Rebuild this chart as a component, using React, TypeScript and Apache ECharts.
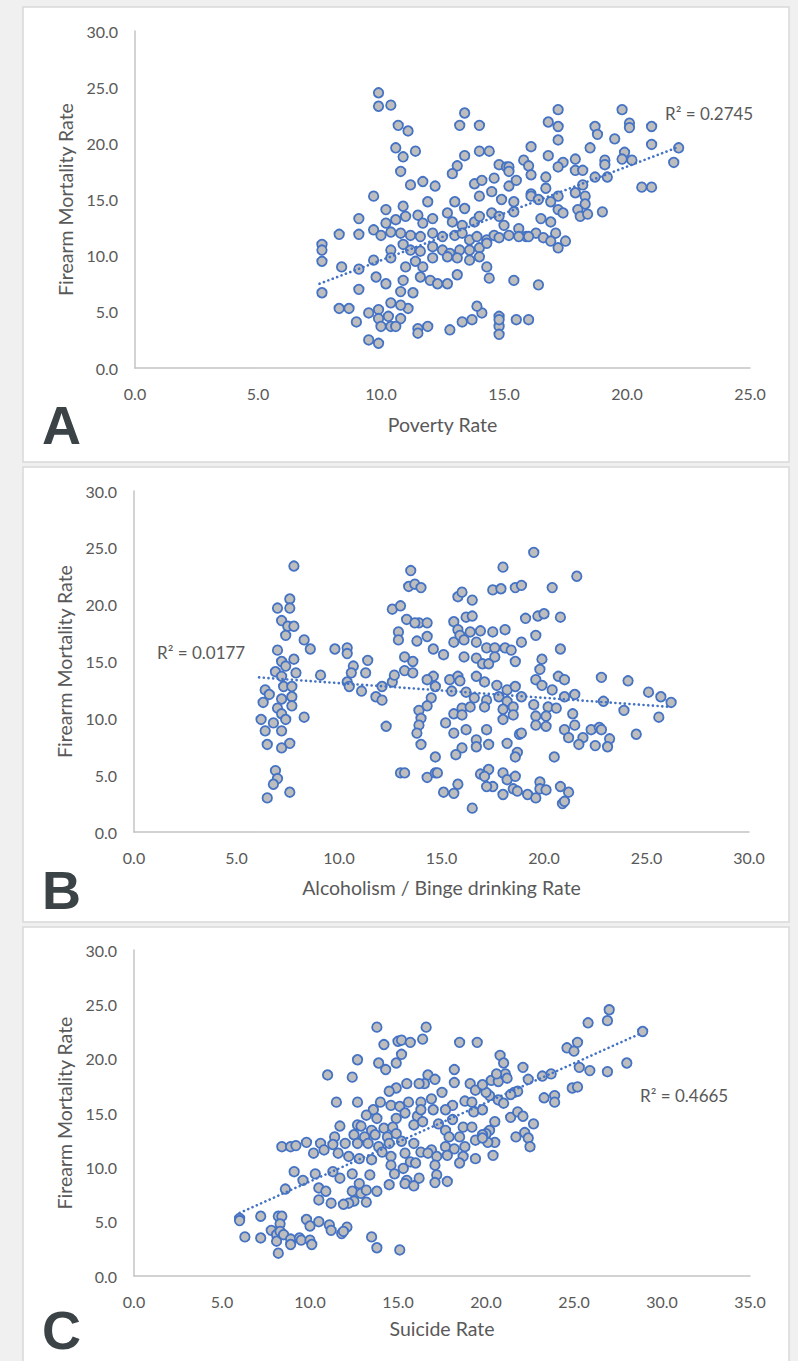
import React, { useEffect, useRef } from "react";
import * as echarts from "echarts";

const W = 798;
const H = 1361;
const FONT = "Lato, 'Open Sans', sans-serif";
const TEXT_COLOR = "#595959";

// Panel A: Poverty rate vs firearm mortality
const povertyPoints: number[][] = [
  // upper / outer points
  [9.9,24.5],[9.9,23.3],[10.4,23.4],[13.4,22.7],[10.7,21.6],[11.1,21.1],[13.2,21.6],[14.0,21.6],
  [10.6,19.6],[11.4,19.3],[10.9,18.8],[14.0,19.3],[14.4,19.3],[13.4,18.9],[13.1,18.0],[14.8,18.1],[15.1,17.9],
  [9.1,13.3],[8.3,11.9],[9.1,11.9],[7.6,11.0],[7.6,10.5],[7.6,9.5],[8.4,9.0],[9.1,8.8],[9.1,7.0],[7.6,6.7],
  [8.3,5.3],[8.7,5.3],[9.5,4.9],[9.9,5.2],[11.1,5.3],[14.1,4.9],
  [9.0,4.1],[9.9,4.4],[10.3,4.6],[10.8,4.4],[13.3,4.1],[13.7,4.3],[14.8,4.6],
  [10.0,3.7],[10.4,3.7],[10.6,3.7],[11.5,3.5],[11.9,3.7],[12.8,3.4],[14.8,3.7],[11.5,3.1],[14.8,3.0],[9.5,2.5],[9.9,2.2],
  [17.2,23.0],[19.8,23.0],[16.8,21.9],[17.2,21.5],[18.7,21.5],[18.8,20.8],[20.1,21.8],[20.1,21.4],[21.0,21.5],
  [17.2,20.3],[19.5,20.4],[21.0,19.9],[16.1,19.7],[18.5,19.6],[22.1,19.6],
  [16.8,18.9],[19.9,19.2],[19.8,18.6],[20.2,18.5],[15.8,18.5],[17.4,18.3],[17.9,18.6],[19.1,18.5],[19.1,18.1],[21.9,18.3],
  [15.2,17.9],[16.0,18.0],[17.9,17.6],[18.2,17.6],[17.2,17.9],[18.7,17.0],[19.2,17.0],
  [18.2,16.3],[20.6,16.1],[21.0,16.1],[17.9,15.6],[18.3,15.3],[18.3,14.6],
  [18.0,14.1],[18.1,13.5],[18.4,13.7],[19.0,13.9],[14.8,4.3],[15.5,4.3],[16.0,4.3],
  // dense centre
  [10.8,17.5],[12.9,17.3],[15.2,17.5],[16.1,17.2],[16.7,17.0],
  [11.2,16.3],[11.7,16.6],[12.2,16.2],[13.8,16.4],[14.1,16.7],[14.6,16.9],[15.2,16.2],[15.5,16.7],[16.1,15.5],[16.7,16.0],
  [9.7,15.3],[11.9,14.8],[13.0,14.8],[13.4,14.2],[14.0,15.3],[14.5,15.7],[14.9,15.0],[15.4,14.8],[16.1,15.3],[16.4,15.0],[17.2,15.3],[16.9,14.8],
  [10.2,14.1],[10.9,14.4],[11.0,13.5],[10.6,13.2],[10.2,12.9],[9.7,12.3],
  [11.5,13.6],[11.7,12.9],[12.1,13.3],[12.7,13.8],[12.9,13.0],[13.3,12.7],[13.8,13.0],[14.0,13.5],[14.5,13.8],[14.8,13.5],[15.0,12.7],
  [15.4,13.9],[15.6,12.4],[15.9,11.7],[16.3,12.0],[16.9,13.0],[17.1,12.0],[16.5,13.3],[17.2,14.1],[17.4,13.8],
  [10.0,11.8],[10.4,12.1],[10.8,12.0],[11.2,11.8],[11.6,11.7],[12.1,12.0],[12.5,11.7],[13.0,11.8],[13.3,12.0],[13.6,11.4],
  [13.9,11.7],[14.3,11.4],[14.6,11.8],[14.8,11.6],[15.2,11.8],[15.6,11.7],[16.0,11.7],
  [10.4,10.5],[10.9,11.0],[11.2,10.5],[11.6,10.4],[12.1,10.8],[12.5,10.5],[12.8,10.2],[13.2,10.5],[13.6,10.5],[14.0,10.7],
  [14.3,11.1],[17.2,10.7],[16.6,11.6],[16.9,11.3],[17.5,11.3],
  [9.7,9.6],[10.4,9.8],[11.0,9.0],[11.4,9.5],[11.7,9.0],[12.1,9.8],[12.7,9.9],[13.1,9.8],[13.6,9.6],[14.0,9.9],[14.3,9.0],
  [9.8,8.1],[10.2,7.5],[10.9,7.8],[11.6,8.1],[12.0,7.8],[12.3,7.5],[12.7,7.5],[13.1,8.3],[14.4,8.0],
  [10.8,6.8],[11.3,6.7],[10.4,5.8],[10.8,5.6],[13.9,5.5],[15.4,7.8],[16.4,7.4],
];

// Panel B: Alcoholism / binge drinking rate vs firearm mortality
const alcoholPoints: number[][] = [
  [7.8,23.4],[7.6,20.5],[7.0,19.7],[7.6,19.7],[7.2,18.6],[7.5,18.1],[7.8,18.1],[7.4,17.3],
  [8.3,16.9],[8.6,16.1],[7.0,16.0],[9.8,16.1],[10.4,16.2],[10.4,15.7],[11.4,15.1],[7.8,15.2],[7.2,15.0],[7.4,14.6],[10.7,14.6],
  [6.9,14.1],[7.9,14.0],[9.1,13.8],[11.3,14.0],[10.6,14.0],[7.2,13.7],[10.4,13.2],[10.5,12.8],[12.1,12.8],[12.6,13.2],[12.7,13.8],
  [6.4,12.5],[6.6,12.1],[7.3,12.8],[7.7,12.8],[11.1,12.4],[6.3,11.4],[7.2,11.7],[7.7,11.9],[11.8,11.9],[12.1,11.6],
  [7.0,10.9],[7.2,10.4],[7.7,11.1],[6.2,9.9],[6.8,9.6],[7.4,9.9],[8.3,10.1],[12.3,9.3],[6.4,8.9],[7.2,8.9],
  [6.5,7.7],[7.2,7.4],[7.6,7.8],[6.9,5.4],[7.0,4.7],[6.8,4.2],[7.6,3.5],[6.5,3.0],
  [12.6,19.6],[12.9,17.6],[12.9,16.9],[13.0,5.2],
  [19.5,24.6],[18.0,23.3],[21.6,22.5],[13.5,23.0],[13.4,21.6],[13.7,21.8],[14.0,21.5],
  [17.5,21.3],[17.9,21.4],[18.6,21.5],[18.9,21.7],[20.4,21.5],[15.8,20.7],[16.0,21.1],[16.5,20.4],[13.0,19.9],
  [13.3,18.7],[13.9,18.4],[14.3,18.4],[13.7,18.4],[15.6,18.5],[15.8,17.8],[16.2,18.9],[16.5,19.0],[16.9,17.7],[17.5,17.6],[18.1,17.8],
  [19.1,18.8],[19.7,19.0],[20.0,19.2],[20.8,18.9],
  [13.8,16.8],[14.3,17.2],[14.6,16.1],[15.1,15.6],[15.6,16.7],[15.9,17.3],[16.1,16.9],[16.4,17.6],[16.7,16.7],
  [17.2,16.2],[17.6,16.2],[18.1,16.2],[18.4,16.0],[18.9,16.7],[19.6,17.3],[20.8,16.1],
  [13.2,15.4],[13.6,15.0],[16.1,15.4],[16.7,15.3],[17.0,14.8],[17.3,14.8],[17.6,15.4],[18.6,15.0],[19.9,15.2],[19.8,14.3],
  [13.2,14.2],[13.6,14.0],[14.6,13.7],[14.7,12.8],[14.3,13.4],[15.4,13.4],[15.8,13.7],[15.9,13.3],[15.5,12.4],
  [16.7,13.7],[17.1,13.2],[17.7,12.9],[18.2,12.5],[18.6,12.8],[18.9,11.9],[19.6,13.4],[19.9,12.9],[20.4,12.5],[20.7,13.7],[21.0,13.4],
  [22.8,13.6],[24.1,13.3],[16.2,12.3],[16.6,11.8],[17.2,11.6],[17.8,11.9],[18.2,11.5],[21.0,11.9],[21.5,12.1],[22.9,11.5],
  [25.1,12.3],[25.7,11.9],[26.2,11.4],[14.5,11.8],[13.9,10.7],[14.3,11.1],[16.0,10.9],[16.4,11.0],[17.1,11.0],
  [18.0,10.8],[18.5,11.0],[19.5,11.2],[20.2,11.0],[20.6,10.9],[23.9,10.7],[25.6,10.1],
  [15.6,10.4],[16.0,10.3],[18.0,9.9],[18.5,10.3],[19.6,10.2],[20.1,10.2],[21.4,10.4],
  [14.0,10.0],[13.9,9.4],[13.8,8.7],[15.2,9.6],[15.6,8.7],[16.2,9.0],[17.2,9.0],[19.6,9.4],[20.1,9.3],[21.0,9.0],[21.5,9.4],
  [22.3,9.0],[22.7,9.2],[22.8,9.0],[23.2,8.2],[24.5,8.6],[21.2,8.3],[21.9,8.3],[21.7,7.7],[22.5,7.6],[23.1,7.5],
  [14.0,7.7],[16.7,8.1],[16.7,7.5],[17.3,7.7],[18.2,7.8],[18.8,8.6],[18.9,8.7],
  [16.0,7.4],[15.7,6.8],[14.7,6.6],[18.7,7.0],[18.6,6.6],[20.5,6.6],
  [13.2,5.2],[14.3,4.8],[14.7,5.2],[14.8,5.2],[16.9,5.1],[17.3,5.5],[17.1,4.9],[17.5,4.0],[17.2,4.0],
  [18.0,5.2],[18.2,4.6],[18.6,4.9],[18.5,3.8],[18.7,3.6],[18.0,3.3],[15.8,4.2],[15.6,3.4],[15.1,3.5],
  [19.2,3.3],[19.6,3.0],[19.8,4.4],[19.8,3.8],[20.1,3.7],[20.8,4.0],[21.2,3.5],[20.9,2.5],[21.0,2.7],[16.5,2.1],
];

// Panel C: Suicide rate vs firearm mortality
const suicidePoints: number[][] = [
  // low / left points
  [6.0,5.3],[6.0,5.1],[6.3,3.6],[7.2,3.5],[7.2,5.5],
  [8.2,5.5],[8.4,5.5],[8.3,4.8],[7.8,4.2],[8.1,3.8],[8.3,4.1],[8.1,3.2],[8.5,3.8],[8.2,2.1],
  [8.9,3.4],[8.9,2.9],[9.4,3.5],[9.5,3.3],[10.0,3.3],[10.1,2.9],
  [9.8,5.2],[10.0,4.6],[10.5,5.0],[11.1,4.7],[11.2,4.2],[11.8,3.9],[12.1,4.5],[11.9,4.1],
  [13.5,3.6],[13.8,2.6],[15.1,2.4],[8.6,8.0],[8.4,11.9],[8.9,11.9],[10.5,7.0],[12.5,6.9],
  // right points
  [27.0,24.5],[26.9,23.5],[25.8,23.3],[28.9,22.5],[28.0,19.6],
  [24.6,21.0],[25.0,20.7],[25.2,21.5],[26.9,18.8],[25.9,18.9],[25.3,19.2],[24.9,17.3],[25.2,17.4],
  [23.2,18.4],[23.7,18.6],[23.3,16.4],[23.9,16.6],[23.9,16.0],
  [20.8,20.3],[21.0,19.6],[22.1,19.2],[20.3,18.0],[20.7,17.9],[21.1,18.6],[21.2,18.2],[20.6,18.6],
  [22.4,18.1],[21.6,16.9],[21.8,17.0],[21.4,16.7],[20.7,16.2],[21.0,15.9],[20.2,16.6],[20.0,16.9],
  [21.4,14.6],[21.8,15.1],[22.1,14.7],[22.7,14.0],[20.5,14.2],[20.5,12.3],[20.2,13.4],[20.1,12.3],[20.0,13.1],
  [21.7,12.8],[22.2,13.2],[22.4,12.7],[22.5,11.9],[20.4,11.1],
  // dense centre
  [13.8,22.9],[16.6,22.9],[14.2,21.3],[15.0,21.6],[15.2,21.7],[15.7,21.5],[16.4,21.8],[15.2,20.4],[14.9,19.6],
  [13.9,19.6],[14.3,19.0],[18.5,21.5],[19.5,21.5],[18.2,19.0],[12.7,19.9],[11.0,18.5],[12.4,18.3],
  [16.7,18.5],[17.1,18.1],[16.5,17.7],[16.2,17.7],[15.5,17.7],[14.9,17.3],[14.5,17.0],
  [18.2,17.8],[19.1,17.7],[19.4,17.1],[19.8,17.6],
  [11.5,16.0],[12.7,16.0],[13.6,15.3],[14.0,16.0],[14.6,15.7],[15.1,15.6],[15.6,16.0],[16.3,16.0],[16.9,16.3],[17.5,16.9],
  [18.1,15.7],[18.8,16.1],[19.2,16.0],[19.3,15.1],[19.8,15.3],
  [13.2,14.8],[13.8,14.5],[14.9,14.5],[15.4,15.0],[16.1,14.7],[16.3,15.3],[17.0,15.3],[17.7,15.3],
  [11.7,13.8],[12.7,13.9],[12.9,13.8],[13.5,13.4],[14.2,13.6],[14.7,13.7],[15.9,13.9],[16.4,14.2],[17.3,14.0],[18.1,14.4],[18.7,13.7],
  [19.2,13.7],[19.8,13.0],
  [11.4,12.8],[12.5,13.0],[13.1,12.8],[13.7,13.0],[14.4,12.8],[14.9,13.1],[17.7,13.4],[17.9,12.8],[18.5,12.8],
  [9.2,12.0],[9.8,12.3],[10.6,12.2],[11.3,12.1],[12.0,12.2],[12.7,12.2],[13.3,12.2],[13.9,11.9],[14.5,12.2],[15.2,12.4],
  [15.9,12.2],[16.3,11.4],[16.9,11.6],[17.7,11.9],[18.2,11.7],[18.8,11.9],[19.4,12.5],[19.8,12.7],
  [10.2,11.3],[10.8,11.6],[11.6,11.3],[12.2,11.0],[12.8,10.8],[13.5,10.7],[14.1,11.4],[14.6,11.0],[15.4,11.3],
  [15.7,10.5],[16.7,11.3],[17.2,11.0],[17.8,11.1],[18.7,11.0],[19.4,10.8],[18.5,10.4],
  [9.1,9.6],[9.6,8.8],[10.3,9.4],[11.3,9.6],[11.7,9.0],[12.4,9.4],[12.8,8.5],[13.4,9.3],
  [14.6,10.2],[14.8,9.4],[15.3,9.9],[16.0,10.4],[15.5,8.8],[16.2,9.0],[17.2,9.3],[17.8,8.7],[17.1,10.2],
  [10.5,8.1],[10.9,7.8],[11.2,6.7],[12.4,7.8],[12.9,7.6],[13.2,7.9],[13.8,7.8],[12.2,6.7],[11.9,6.6],[13.2,6.8],
  [14.5,8.4],[15.4,8.5],[15.9,8.3],[17.1,8.6],
];

// Trendline endpoints as drawn in the reference
const povertyTrend: number[][] = [[7.5, 7.5], [22.0, 19.6]];
const alcoholTrend: number[][] = [[6.1, 13.6], [26.2, 11.0]];
const suicideTrend: number[][] = [[6.0, 5.8], [28.9, 22.4]];

const r2Labels = ["R\u00b2 = 0.2745", "R\u00b2 = 0.0177", "R\u00b2 = 0.4665"];
const xAxisNames = ["Poverty Rate", "Alcoholism / Binge drinking Rate", "Suicide Rate"];
const yAxisName = "Firearm Mortality Rate";
const xMaxes = [25, 30, 35];
const yMax = 30;
const tickStep = 5;
const panelLetters = ["A", "B", "C"];

// layout (pixels)
const grids = [
  { left: 135, top: 31, width: 615, height: 337 },
  { left: 134, top: 491, width: 615, height: 341 },
  { left: 134, top: 950, width: 616, height: 326 },
];
const panels = [
  { y: 7, h: 455 },
  { y: 467, h: 455 },
  { y: 927, h: 445 },
];
const letterY = [425, 890, 1330];
const r2Pos = [
  { x: 665, y: 113 },
  { x: 157, y: 652 },
  { x: 640, y: 1095 },
];
const xNameGaps = [46, 45, 42];

const fmt = (v: number) => v.toFixed(1);

export default function App() {
  const ref = useRef<HTMLDivElement>(null);

  useEffect(() => {
    if (!ref.current) return;
    const chart = echarts.init(ref.current, undefined, { renderer: "svg" });
    const pointSets = [povertyPoints, alcoholPoints, suicidePoints];
    const trends = [povertyTrend, alcoholTrend, suicideTrend];

    const axisLine = { show: true, onZero: false, lineStyle: { color: "#c4c4c4", width: 1.5 } };
    const axisLabel = { color: TEXT_COLOR, fontFamily: FONT, fontSize: 16, margin: 17, formatter: fmt };
    const nameStyle = { color: TEXT_COLOR, fontFamily: FONT, fontSize: 19.5 };

    const graphic: any[] = [];
    panels.forEach((p) => {
      graphic.push({
        type: "rect",
        z: -10,
        silent: true,
        shape: { x: 23, y: p.y, width: 766, height: p.h },
        style: { fill: "#ffffff", stroke: "#d9d9d9", lineWidth: 1.5 },
      });
    });
    panelLetters.forEach((l, i) => {
      graphic.push({
        type: "text",
        z: 10,
        x: 42,
        y: letterY[i],
        style: {
          text: l,
          fill: "#3b4346",
          font: "bold 54px 'Liberation Sans', Arial, sans-serif",
          verticalAlign: "middle",
          align: "left",
        },
      });
    });
    r2Labels.forEach((t, i) => {
      graphic.push({
        type: "text",
        z: 10,
        x: r2Pos[i].x,
        y: r2Pos[i].y,
        style: {
          text: t,
          fill: TEXT_COLOR,
          font: `17px ${FONT}`,
          verticalAlign: "middle",
          align: "left",
        },
      });
    });

    const series: any[] = [];
    pointSets.forEach((pts, i) => {
      series.push({
        type: "scatter",
        xAxisIndex: i,
        yAxisIndex: i,
        data: pts,
        symbol: "circle",
        symbolSize: 9.5,
        itemStyle: { color: "#bdbdbd", borderColor: "#4472c4", borderWidth: 1.8, opacity: 1 },
        z: 2,
      });
      series.push({
        type: "line",
        xAxisIndex: i,
        yAxisIndex: i,
        data: trends[i],
        symbol: "none",
        lineStyle: { color: "#4472c4", width: 2.6, type: [0.1, 4.6], cap: "round" },
        z: 5,
        silent: true,
      });
    });

    chart.setOption({
      animation: false,
      backgroundColor: "#f0f0f0",
      grid: grids.map((g) => ({ ...g, containLabel: false })),
      xAxis: xMaxes.map((mx, i) => ({
        gridIndex: i,
        type: "value",
        min: 0,
        max: mx,
        interval: tickStep,
        axisLine,
        axisTick: { show: false },
        splitLine: { show: false },
        axisLabel,
        name: xAxisNames[i],
        nameLocation: "middle",
        nameGap: xNameGaps[i],
        nameTextStyle: nameStyle,
      })),
      yAxis: xMaxes.map((_, i) => ({
        gridIndex: i,
        type: "value",
        min: 0,
        max: yMax,
        interval: tickStep,
        axisLine,
        axisTick: { show: false },
        splitLine: { show: false },
        axisLabel,
        name: yAxisName,
        nameLocation: "middle",
        nameGap: 57,
        nameTextStyle: nameStyle,
      })),
      graphic,
      series,
    });
    return () => chart.dispose();
  }, []);

  return (
    <div
      ref={ref}
      style={{ position: "absolute", left: 0, top: 0, width: W, height: H }}
    />
  );
}
